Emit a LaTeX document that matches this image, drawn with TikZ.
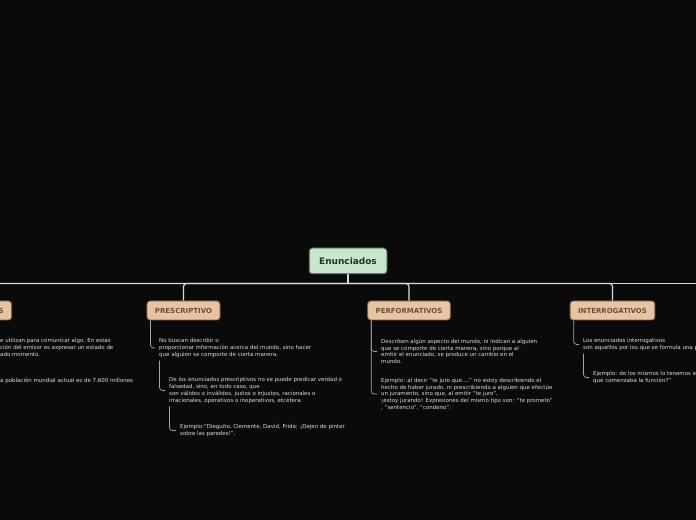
\documentclass[tikz,border=0pt]{standalone}
\usepackage{fontspec}
\setmainfont{DejaVu Sans}
\definecolor{bgcol}{RGB}{10,10,11}
\definecolor{rootfill}{RGB}{200,230,203}
\definecolor{rootline}{RGB}{44,74,48}
\definecolor{roottext}{RGB}{30,51,34}
\definecolor{topicfill}{RGB}{233,196,161}
\definecolor{topicline}{RGB}{125,94,66}
\definecolor{topictext}{RGB}{110,78,53}
\definecolor{notetext}{RGB}{222,222,222}
\definecolor{trunkgray}{RGB}{218,218,218}
\definecolor{branchgray}{RGB}{165,165,165}

\begin{document}
\begin{tikzpicture}[x=1bp,y=1bp,
  root/.style={fill=rootfill,draw=rootline,line width=1bp,rounded corners=3bp,
    minimum width=78bp,minimum height=26bp,text=roottext,font=\fontsize{9}{10}\selectfont\bfseries},
  topic/.style={fill=topicfill,draw=topicline,line width=.9bp,rounded corners=3bp,
    inner xsep=8bp,minimum height=19bp,text=topictext,font=\fontsize{7}{8}\selectfont\bfseries},
  note/.style={anchor=west,align=left,inner sep=0pt,text=notetext,font=\fontsize{5.5}{6.7}\selectfont},
  trunk/.style={draw=trunkgray,line width=1.2bp,rounded corners=3bp},
  branch/.style={draw=branchgray,line width=.7bp,rounded corners=3bp}]
\fill[bgcol] (0,0) rectangle (696,520);
\useasboundingbox (0,0) rectangle (696,520);
\clip (0,0) rectangle (696,520);

% main topic and its children
\node[root] (enun) at (348,259) {Enunciados};
\node[topic,anchor=east] (descr) at (12,209.5) {DESCRIPTIVOS};
\node[topic] (presc) at (183.5,209.5) {PRESCRIPTIVO};
\node[topic] (perf) at (409,209.5) {PERFORMATIVOS};
\node[topic] (interr) at (612.5,209.5) {INTERROGATIVOS};

\draw[trunk] (enun.south) -- ++(0,-9) coordinate (hub);
\coordinate (east) at ([xshift=360bp]hub);
\draw[trunk] (hub) -| (descr.north);
\draw[trunk] (hub) -| (presc.north);
\draw[trunk] (hub) -| (perf.north);
\draw[trunk] (hub) -| (interr.north);
\draw[trunk] (hub) -- (east);

% descriptivos
\node[note] (d1) at (0,172.5) {e utilizan para comunicar algo. En estas\\ción del emisor es expresar un estado de\\ado momento.};
\node[note] (d2) at (0,139) {a población mundial actual es de 7.600 millones};

% prescriptivo
\node[note] (p1) at (159,172) {No buscan describir o\\proporcionar información acerca del mundo, sino hacer\\que alguien se comporte de cierta manera.};
\node[note] (p2) at (169,129.5) {De los enunciados prescriptivos no se puede predicar verdad o\\falsedad, sino, en todo caso, que\\son válidos o inválidos, justos o injustos, racionales o\\irracionales, operativos o inoperativos, etcétera.};
\node[note] (p3) at (180,89.5) {Ejemplo:“Dieguito, Clemente, David, Frida: ¡Dejen de pintar\\sobre las paredes!”,};
\draw[branch] ([xshift=4bp]presc.south west) |- ([xshift=-4bp]p1.west);
\draw[branch] ([xshift=.5bp,yshift=-3bp]p1.south west) |- ([xshift=-4bp]p2.west);
\draw[branch] ([xshift=.5bp,yshift=-3bp]p2.south west) |- ([xshift=-4bp]p3.west);

% performativos
\node[note] (f1) at (381,168.5) {Describen algún aspecto del mundo, ni indican a alguien\\que se comporte de cierta manera, sino porque al\\emitir el enunciado, se produce un cambio en el\\mundo.};
\node[note] (f2) at (381,126) {Ejemplo: al decir “te juro que....” no estoy describiendo el\\hecho de haber jurado, ni prescribiendo a alguien que efectúe\\un juramento, sino que, al emitir “te juro”,\\¡estoy jurando! Expresiones del mismo tipo son: “te prometo”\\, “sentencio”, “condeno”.};
\draw[branch] ([xshift=4bp]perf.south west) |- ([xshift=-4bp]f1.west);
\draw[branch] ([xshift=4bp]perf.south west) |- ([xshift=-4bp]f2.west);

% interrogativos
\node[note] (i1) at (583,175.5) {Los enunciados interrogativos\\son aquellos por los que se formula una pregunta.};
\node[note] (i2) at (593,142.5) {Ejemplo: de los mismos lo tenemos en “¿A qué hora era\\que comenzaba la función?”};
\draw[branch] ([xshift=4bp]interr.south west) |- ([xshift=-4bp]i1.west);
\draw[branch] ([xshift=.5bp,yshift=-3bp]i1.south west) |- ([xshift=-4bp]i2.west);
\end{tikzpicture}
\end{document}
